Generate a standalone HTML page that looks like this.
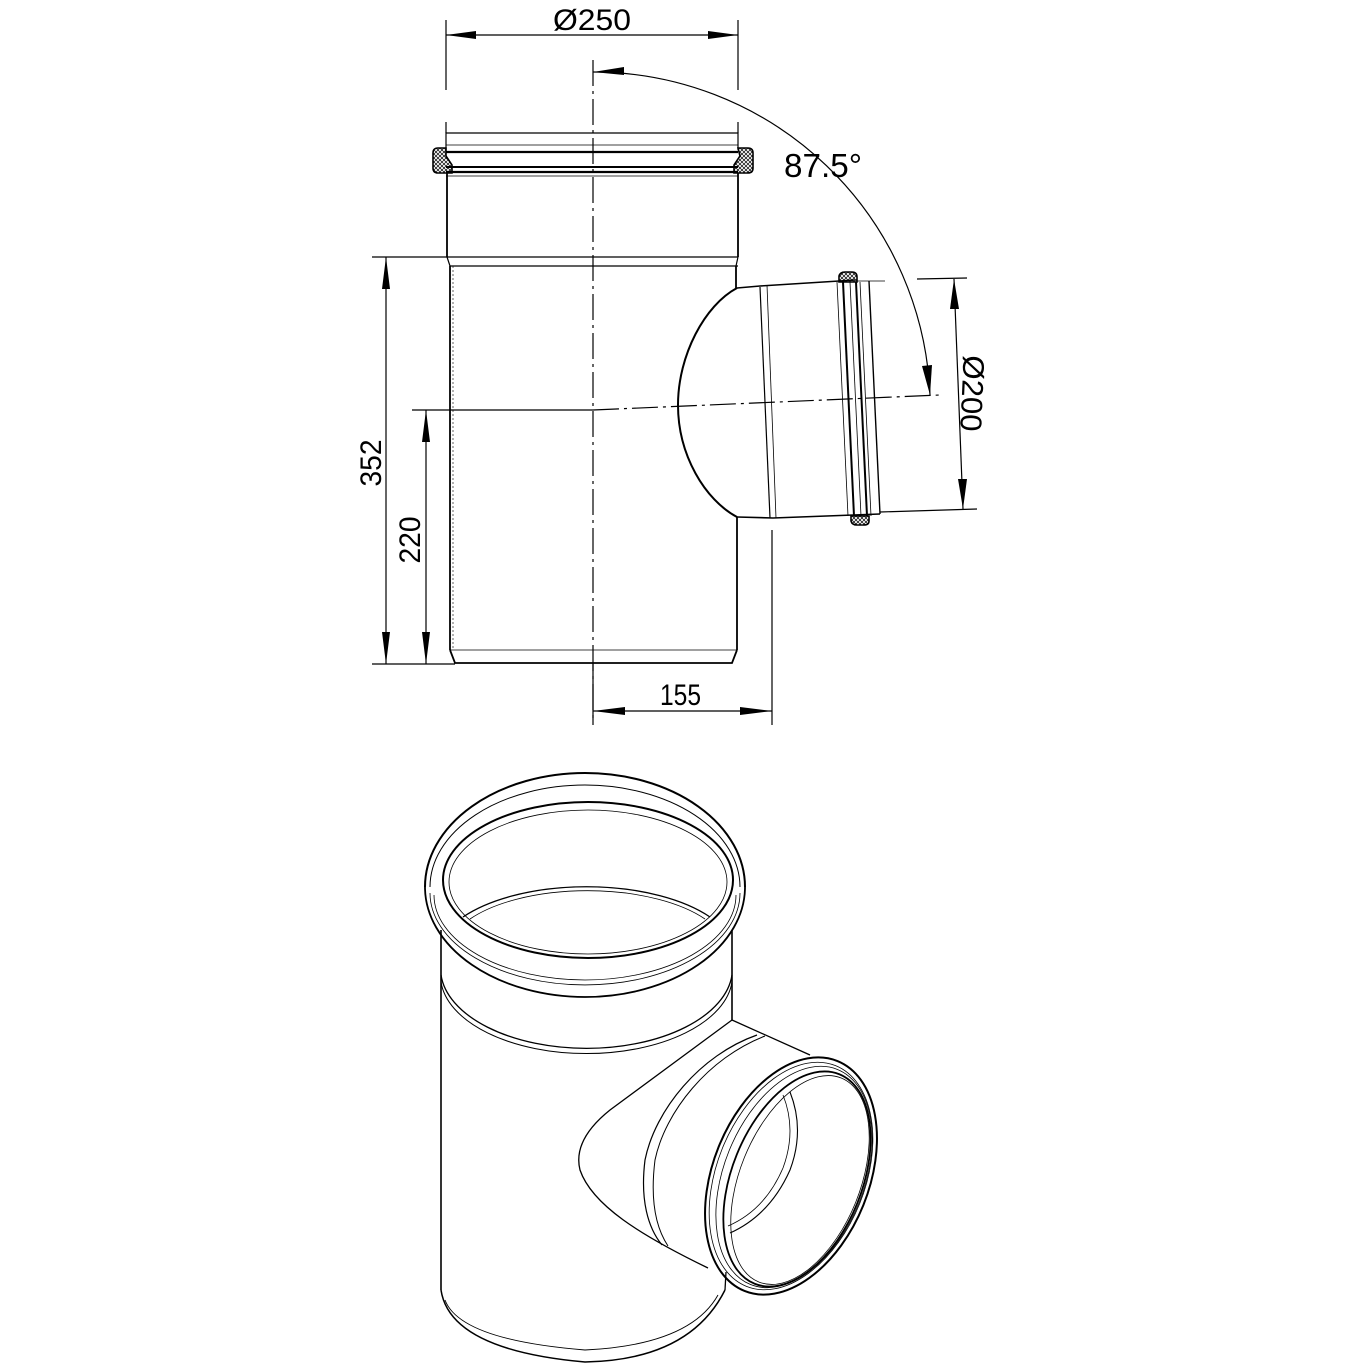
<!DOCTYPE html>
<html><head><meta charset="utf-8"><style>
html,body{margin:0;padding:0;background:#fff}
svg{display:block}
text{font-family:"Liberation Sans","DejaVu Sans",sans-serif;fill:#000}
</style></head><body>
<svg width="1366" height="1366" viewBox="0 0 1366 1366" xmlns="http://www.w3.org/2000/svg">
<defs>
<pattern id="h" width="4" height="4" patternUnits="userSpaceOnUse">
<path d="M0 4L4 0M0 0L4 4" stroke="#000" stroke-width="0.7"/>
</pattern>
</defs>
<g fill="none" stroke="#000" stroke-width="1.2">
<!-- Ø250 dim -->
<line x1="446" y1="20" x2="446" y2="90"/><line x1="446" y1="122" x2="446" y2="133"/>
<line x1="738" y1="20" x2="738" y2="90"/><line x1="738" y1="122" x2="738" y2="133"/>
<line x1="446" y1="35" x2="738" y2="35"/>
<line x1="593" y1="60" x2="593" y2="720" stroke-dasharray="26,5,3,5"/>
<!-- socket top -->
<polyline points="446,150 446,133 738,133 738,150"/>
<line x1="446" y1="145" x2="738" y2="145" stroke-width="0.8"/>
<line x1="446" y1="152" x2="738" y2="152" stroke-width="2.2"/>
<line x1="446" y1="167" x2="738" y2="167" stroke-width="2"/>
<line x1="446" y1="172" x2="738" y2="172" stroke-width="2.2"/>
<line x1="446" y1="176" x2="738" y2="176" stroke-width="0.8"/>
<path d="M446 148 L438 148 Q433 148 433 153 L433 168 Q433 173 438 173 L452 173 L452 165 L446 156 Z" stroke-width="1.6" fill="url(#h)"/>
<path d="M738 148 L748 148 Q753 148 753 153 L753 168 Q753 173 748 173 L734 173 L734 165 L740 156 Z" stroke-width="1.6" fill="url(#h)"/>
<line x1="447" y1="173" x2="447" y2="257" stroke-width="1.8"/>
<line x1="738" y1="173" x2="738" y2="257" stroke-width="1.8"/>
<line x1="446" y1="257" x2="738" y2="257"/>
<polyline points="447,257 450,266 738,266"/>
<polyline points="738,257 736,266"/>
<line x1="450" y1="266" x2="450" y2="650" stroke-width="1.8"/>
<line x1="453" y1="266" x2="453" y2="650" stroke-width="0.6" stroke-dasharray="2,2"/>
<path d="M736 266 L736 288 M737 517 L737 650" stroke-width="1.8"/>
<polyline points="450,650 455,663 732,663 737,650" stroke-width="1.8"/>
<line x1="450" y1="650" x2="737" y2="650" stroke-width="0.8"/>
<!-- branch -->
<path d="M737 288 C705 305 678 355 678 405 C678 455 705 500 737 517" stroke-width="2"/>
<polyline points="737,288 760,286 855,280" stroke-width="1.6"/>
<polyline points="737,517 773,518 880,514" stroke-width="1.6"/>
<line x1="760" y1="287" x2="770" y2="518"/>
<line x1="767" y1="285" x2="776" y2="518" stroke-width="0.8"/>
<line x1="837" y1="282" x2="848" y2="516" stroke-width="0.8"/>
<line x1="843" y1="282" x2="854" y2="516" stroke-width="2"/>
<line x1="850" y1="282" x2="861" y2="516" stroke-width="0.8"/>
<line x1="856" y1="282" x2="867" y2="516" stroke-width="2"/>
<line x1="860" y1="282" x2="871" y2="516" stroke-width="0.8"/>
<line x1="869" y1="281" x2="880" y2="514" stroke-width="1.4"/>
<polyline points="857,281 870,281 885,281" stroke-width="0.8"/>
<path d="M839 282 L839 276 Q840 272 845 272 L852 272 Q857 272 857 277 L857 282 Z" stroke-width="1.6" fill="url(#h)"/>
<path d="M851 516 L851 521 Q852 525 857 525 L864 525 Q869 525 869 521 L869 516 Z" stroke-width="1.6" fill="url(#h)"/>
<line x1="412" y1="410" x2="593" y2="410"/>
<line x1="593" y1="410" x2="940" y2="395" stroke-dasharray="26,5,3,5"/>
<path d="M593 72 A337 337 0 0 1 930 395"/>
<line x1="917" y1="279" x2="967" y2="278"/>
<line x1="880" y1="512" x2="977" y2="509"/>
<line x1="954" y1="279" x2="963" y2="509"/>
<line x1="372" y1="257" x2="446" y2="257"/>
<line x1="372" y1="664" x2="455" y2="664"/>
<line x1="386" y1="257" x2="386" y2="664"/>
<line x1="426" y1="410" x2="426" y2="664"/>
<line x1="593" y1="663" x2="593" y2="725"/>
<line x1="772" y1="530" x2="772" y2="725"/>
<line x1="593" y1="711" x2="772" y2="711"/>
</g>
<g fill="#000">
<polygon points="446,35 476,31 476,39"/>
<polygon points="738,35 708,31 708,39"/>
<polygon points="593,72 624,67 624,75"/>
<polygon points="930,395 922,366 932,365"/>
<polygon points="954,279 950,309 959,309"/>
<polygon points="963,509 958,479 967,479"/>
<polygon points="386,257 382,289 390,289"/>
<polygon points="386,664 382,632 390,632"/>
<polygon points="426,410 422,442 430,442"/>
<polygon points="426,664 422,632 430,632"/>
<polygon points="593,711 625,707 625,715"/>
<polygon points="772,711 740,707 740,715"/>
</g>
<text x="553" y="30" font-size="30" textLength="78" lengthAdjust="spacingAndGlyphs">Ø250</text>
<text x="784" y="177" font-size="33" textLength="78" lengthAdjust="spacingAndGlyphs">87.5°</text>
<text x="660" y="705" font-size="30" textLength="41" lengthAdjust="spacingAndGlyphs">155</text>
<text transform="translate(381,463) rotate(-90)" text-anchor="middle" font-size="30" textLength="47" lengthAdjust="spacingAndGlyphs">352</text>
<text transform="translate(420,540) rotate(-90)" text-anchor="middle" font-size="30" textLength="47" lengthAdjust="spacingAndGlyphs">220</text>
<text transform="translate(962,393) rotate(92.5)" text-anchor="middle" font-size="30" textLength="76" lengthAdjust="spacingAndGlyphs">Ø200</text>

<!-- ISO -->
<g fill="none" stroke="#000" stroke-width="1.3">
<path d="M425 887 A160 114 0 0 1 745 887" stroke-width="2"/>
<path d="M430 887 A155 102 0 0 1 740 887" stroke-width="1"/>
<path d="M425 887 A160 110 0 0 0 745 887" stroke-width="1.8"/>
<path d="M430 893 A155 92 0 0 0 740 893" stroke-width="0.8"/>
<path d="M434 895 A151 85 0 0 0 736 895" stroke-width="0.8"/>
<ellipse cx="588" cy="880" rx="145" ry="78" stroke-width="2"/>
<ellipse cx="588" cy="882" rx="139" ry="72" stroke-width="0.8"/>
<path d="M463 917 A150 70 0 0 1 710 917"/>
<path d="M470 919 A140 62 0 0 1 705 919" stroke-width="0.8"/>
<line x1="441" y1="930" x2="441" y2="1290" stroke-width="1.6"/>
<line x1="732" y1="930" x2="732" y2="1020" stroke-width="1.6"/>
<path d="M441 975 A146 80 0 0 0 732 975"/>
<path d="M441 982 A146 78 0 0 0 732 982" stroke-width="1"/>
<path d="M441 1290 Q450 1350 585 1362 Q690 1360 725 1290" stroke-width="1.5"/>
<path d="M445 1300 Q460 1340 585 1350 Q690 1345 718 1295" stroke-width="0.9"/>
<line x1="725" y1="1290" x2="726" y2="1272"/>
<path d="M732 1020 L810 1055"/>
<path d="M732 1020 L610 1110 C585 1130 575 1150 580 1170 C592 1205 640 1235 708 1268"/>
<path d="M757 1035 C700 1055 655 1110 645 1160 C640 1200 648 1228 662 1245" stroke-width="1.2"/>
<path d="M765 1036 C708 1058 665 1112 655 1160 C650 1200 656 1228 668 1246" stroke-width="1"/>
<ellipse cx="791" cy="1176" rx="78" ry="124" transform="rotate(22 791 1176)" stroke-width="2"/>
<ellipse cx="791" cy="1176" rx="74" ry="119" transform="rotate(22 791 1176)" stroke-width="0.8"/>
<ellipse cx="794" cy="1177" rx="70" ry="116" transform="rotate(22 794 1177)" stroke-width="0.8"/>
<ellipse cx="797" cy="1179" rx="65" ry="113" transform="rotate(22 797 1179)" stroke-width="1.8"/>
<ellipse cx="800" cy="1180" rx="60" ry="110" transform="rotate(22 800 1180)" stroke-width="0.8"/>
<path d="M790 1092 Q805 1130 790 1170 Q770 1215 730 1233" stroke-width="1.1"/>
<path d="M783 1095 Q797 1130 783 1168 Q765 1210 728 1226" stroke-width="0.8"/>
</g>
</svg>
</body></html>
